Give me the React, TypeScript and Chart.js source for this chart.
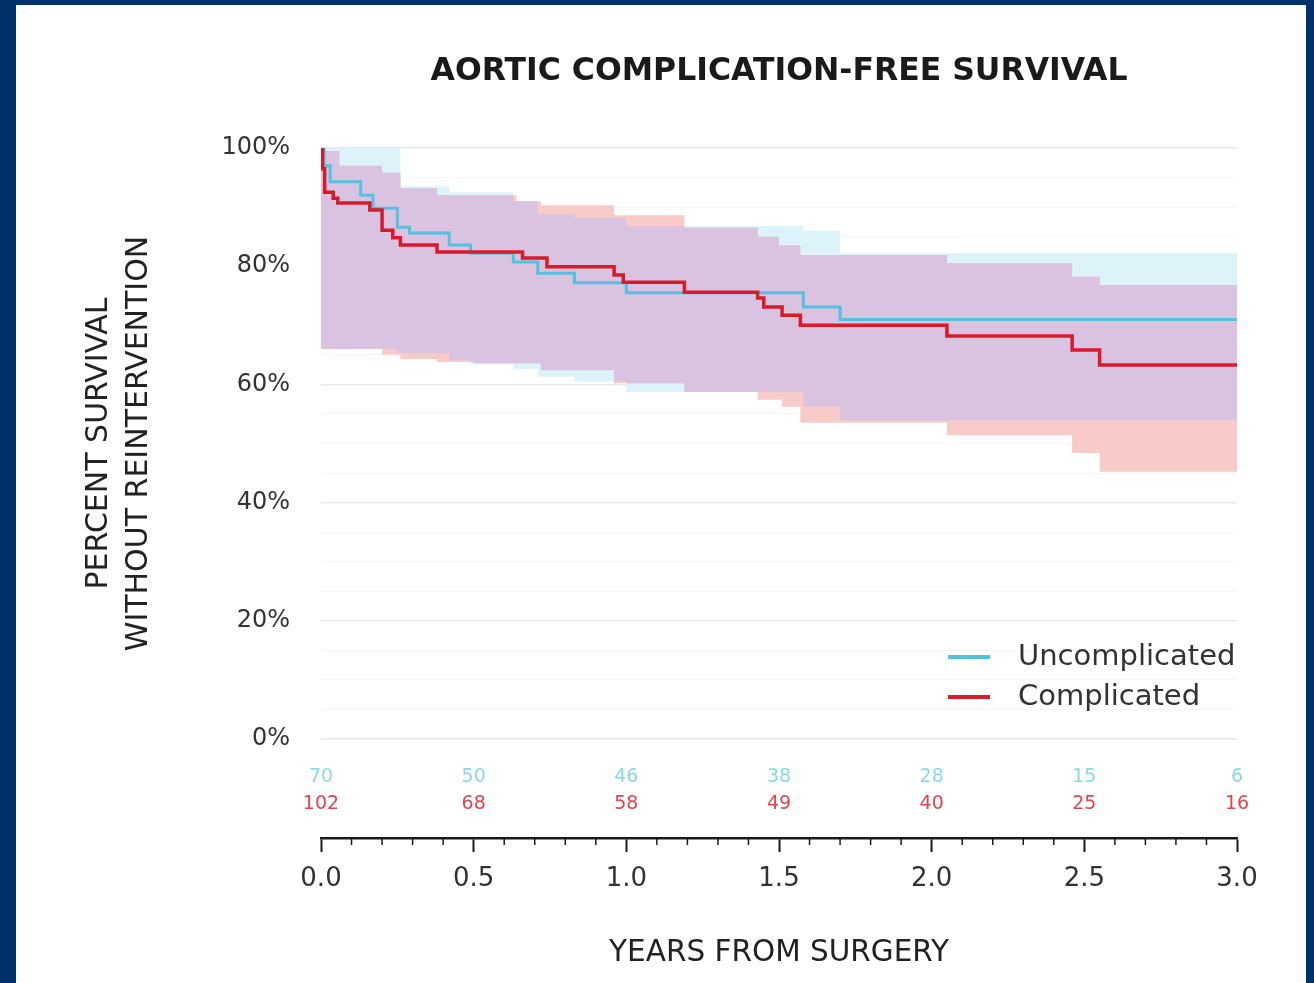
import React, { useEffect, useRef } from "react";
import { Chart, registerables } from "chart.js";

Chart.register(...registerables);

// ---- Data ----
const uncompTimes = [0, 0.01, 0.03, 0.13, 0.17, 0.25, 0.29, 0.42, 0.49, 0.63, 0.71, 0.83, 1.0, 1.58, 1.7, 3.0];
const uncompSurv = [100, 97.0, 94.3, 92.0, 89.8, 86.6, 85.6, 83.6, 82.2, 80.7, 78.8, 77.2, 75.5, 73.1, 71.0, 71.0];

const compTimes = [0, 0.005, 0.012, 0.04, 0.055, 0.16, 0.2, 0.235, 0.26, 0.38, 0.66, 0.74, 0.96, 0.99, 1.19, 1.43, 1.45, 1.51, 1.57, 2.05, 2.46, 2.55, 3.0];
const compSurv = [100, 96.5, 92.5, 91.5, 90.7, 89.5, 86.1, 84.8, 83.6, 82.4, 81.4, 79.9, 78.5, 77.3, 75.6, 74.6, 73.1, 71.7, 70.0, 68.2, 65.8, 63.3, 63.3];

const uncompUpperTimes = [0, 0.26, 0.42, 0.63, 0.71, 0.83, 1.0, 1.58, 1.7, 3.0];
const uncompUpper = [100, 93.5, 92.5, 91.0, 88.8, 88.2, 86.8, 86.0, 82.2, 82.2];
const uncompLowerTimes = [0, 0.25, 0.42, 0.49, 0.63, 0.71, 0.83, 1.0, 1.58, 1.7, 3.0];
const uncompLower = [66.0, 65.3, 64.1, 63.4, 62.6, 61.3, 60.5, 58.7, 56.2, 53.9, 53.9];

const compUpperTimes = [0, 0.06, 0.2, 0.26, 0.38, 0.64, 0.72, 0.96, 1.19, 1.43, 1.5, 1.57, 2.05, 2.46, 2.55, 3.0];
const compUpper = [99.5, 97.0, 95.8, 93.2, 92.0, 91.0, 90.3, 88.6, 86.5, 85.0, 83.5, 81.9, 80.5, 78.2, 76.8, 76.8];
const compLowerTimes = [0, 0.2, 0.26, 0.38, 0.5, 0.72, 0.96, 1.19, 1.43, 1.51, 1.57, 2.05, 2.46, 2.55, 3.0];
const compLower = [66.0, 65.0, 64.3, 63.8, 63.6, 62.4, 60.2, 58.7, 57.4, 56.2, 53.5, 51.4, 48.4, 45.2, 45.2];

const riskTimes = [0, 0.5, 1.0, 1.5, 2.0, 2.5, 3.0];
const uncompAtRisk = [70, 50, 46, 38, 28, 15, 6];
const compAtRisk = [102, 68, 58, 49, 40, 25, 16];

const seriesNames = ["Uncomplicated", "Complicated"];
const chartTitle = "AORTIC COMPLICATION-FREE SURVIVAL";
const yTitleLines = ["PERCENT SURVIVAL", "WITHOUT REINTERVENTION"];
const xTitle = "YEARS FROM SURGERY";

// ---- Styles ----
const FONT = "DejaVu Sans";
const BLUE = "#55c0e0";
const RED = "#d81a2a";
const CYAN_FILL = "#dcf4f9";
const PINK_FILL = "#f8cbc8";
const LAV_FILL = "#d9c3e0";
const TEXT = "#333333";

const pts = (t: number[], v: number[]) => t.map((x, i) => ({ x, y: v[i] }));

const stepAt = (times: number[], vals: number[], t: number) => {
  let v = vals[0];
  for (let i = 0; i < times.length; i++) if (times[i] <= t + 1e-9) v = vals[i];
  return v;
};

const unionTimes = Array.from(
  new Set([...uncompUpperTimes, ...uncompLowerTimes, ...compUpperTimes, ...compLowerTimes])
).sort((a, b) => a - b);
const overlapUpper = unionTimes.map((t) =>
  Math.min(stepAt(uncompUpperTimes, uncompUpper, t), stepAt(compUpperTimes, compUpper, t))
);
const overlapLower = unionTimes.map((t) =>
  Math.max(stepAt(uncompLowerTimes, uncompLower, t), stepAt(compLowerTimes, compLower, t))
);

const bandDs = (label: string, data: any[], fill: any, bg?: string) => ({
  label,
  data,
  stepped: "before" as const,
  borderColor: "transparent",
  borderWidth: 0,
  pointRadius: 0,
  fill,
  backgroundColor: bg || "transparent",
});

const decorPlugin = {
  id: "decor",
  afterDraw(chart: any) {
    const { ctx, chartArea, scales } = chart;
    const x = scales.x;
    const y = scales.y;
    ctx.save();

    // minor ticks on x axis
    ctx.strokeStyle = "#1a1a1a";
    ctx.lineWidth = 1.5;
    for (let i = 0; i <= 30; i++) {
      if (i % 5 === 0) continue;
      const px = x.getPixelForValue(i / 10);
      ctx.beginPath();
      ctx.moveTo(px, chartArea.bottom);
      ctx.lineTo(px, chartArea.bottom + 7);
      ctx.stroke();
    }

    // numbers at risk
    ctx.font = `19px "${FONT}"`;
    ctx.textAlign = "center";
    ctx.textBaseline = "middle";
    riskTimes.forEach((t, i) => {
      const px = x.getPixelForValue(t);
      ctx.fillStyle = "#8bd8eb";
      ctx.fillText(String(uncompAtRisk[i]), px, y.getPixelForValue(-6.43));
      ctx.fillStyle = "#de4750";
      ctx.fillText(String(compAtRisk[i]), px, y.getPixelForValue(-11.0));
    });

    // chart title
    ctx.fillStyle = "#1a1a1a";
    ctx.font = `bold 31.5px "${FONT}"`;
    ctx.fillText(chartTitle, (chartArea.left + chartArea.right) / 2, 67);

    // y title (rotated, two lines)
    ctx.font = `30px "${FONT}"`;
    ctx.fillStyle = "#222222";
    const cy = y.getPixelForValue(50);
    [83, 123].forEach((cx, i) => {
      ctx.save();
      ctx.translate(cx, cy);
      ctx.rotate(-Math.PI / 2);
      ctx.fillText(yTitleLines[i], 0, 0);
      ctx.restore();
    });

    // legend
    const colors = [BLUE, RED];
    const legendY = [13.87, 7.1];
    ctx.font = `29px "${FONT}"`;
    ctx.textAlign = "left";
    seriesNames.forEach((name, i) => {
      const py = y.getPixelForValue(legendY[i]);
      ctx.strokeStyle = colors[i];
      ctx.lineWidth = 4;
      ctx.beginPath();
      ctx.moveTo(chartArea.right - 289, py);
      ctx.lineTo(chartArea.right - 247, py);
      ctx.stroke();
      ctx.fillStyle = TEXT;
      ctx.fillText(name, chartArea.right - 219, py);
    });

    ctx.restore();
  },
};

export default function App() {
  const canvasRef = useRef<HTMLCanvasElement | null>(null);

  useEffect(() => {
    if (!canvasRef.current) return;
    const chart = new Chart(canvasRef.current, {
      type: "line",
      data: {
        datasets: [
          {
            label: seriesNames[1],
            data: pts(compTimes, compSurv),
            stepped: "before",
            borderColor: RED,
            borderWidth: 3.5,
            pointRadius: 0,
            fill: false,
          },
          {
            label: seriesNames[0],
            data: pts(uncompTimes, uncompSurv),
            stepped: "before",
            borderColor: BLUE,
            borderWidth: 3,
            pointRadius: 0,
            fill: false,
          },
          bandDs("overlapUpper", pts(unionTimes, overlapUpper), false),
          bandDs("overlapLower", pts(unionTimes, overlapLower), "-1", LAV_FILL),
          bandDs("compUpper", pts(compUpperTimes, compUpper), false),
          bandDs("compLower", pts(compLowerTimes, compLower), "-1", PINK_FILL),
          bandDs("uncompUpper", pts(uncompUpperTimes, uncompUpper), false),
          bandDs("uncompLower", pts(uncompLowerTimes, uncompLower), "-1", CYAN_FILL),
        ] as any,
      },
      options: {
        animation: false,
        responsive: true,
        maintainAspectRatio: false,
        events: [],
        layout: { padding: { top: 143, right: 69, left: 0, bottom: 0 } },
        plugins: {
          legend: { display: false },
          tooltip: { enabled: false },
          title: { display: false },
        },
        scales: {
          x: {
            type: "linear",
            min: 0,
            max: 3,
            afterFit: (s: any) => {
              s.height = 145;
            },
            border: { display: true, color: "#1a1a1a", width: 2.5 },
            grid: {
              drawOnChartArea: false,
              drawTicks: true,
              tickLength: 14,
              tickWidth: 2,
              tickColor: "#1a1a1a",
              color: "#1a1a1a",
            },
            ticks: {
              stepSize: 0.5,
              padding: 12,
              color: TEXT,
              autoSkip: false,
              maxRotation: 0,
              font: { family: FONT, size: 26 },
              callback: (v: any) => Number(v).toFixed(1),
            },
            title: {
              display: true,
              text: xTitle,
              color: "#222222",
              font: { family: FONT, size: 29.5 },
              padding: { top: 0, bottom: 12 },
            },
          },
          y: {
            min: -16.75,
            max: 100,
            z: 1,
            afterFit: (s: any) => {
              s.width = 305;
            },
            border: { display: false },
            grid: {
              drawTicks: false,
              color: (c: any) => {
                const v = c.tick ? c.tick.value : 0;
                if (v < 0) return "transparent";
                if (v % 20 === 0) return "rgba(0,0,0,0.09)";
                return "rgba(0,0,0,0.035)";
              },
              lineWidth: (c: any) => {
                const v = c.tick ? c.tick.value : 0;
                return v >= 0 && v % 20 === 0 ? 1.5 : 1;
              },
            },
            ticks: {
              stepSize: 5,
              padding: 31,
              color: TEXT,
              autoSkip: false,
              font: { family: FONT, size: 24 },
              callback: (v: any) => (v >= 0 && v % 20 === 0 ? `${v}%` : ""),
            },
          },
        },
      } as any,
      plugins: [decorPlugin],
    });
    return () => chart.destroy();
  }, []);

  return (
    <div style={{ position: "fixed", inset: 0, background: "#01306a" }}>
      <div
        style={{
          position: "absolute",
          left: 16,
          top: 5,
          width: 1290,
          height: 978,
          background: "#ffffff",
        }}
      >
        <canvas ref={canvasRef} />
      </div>
    </div>
  );
}
